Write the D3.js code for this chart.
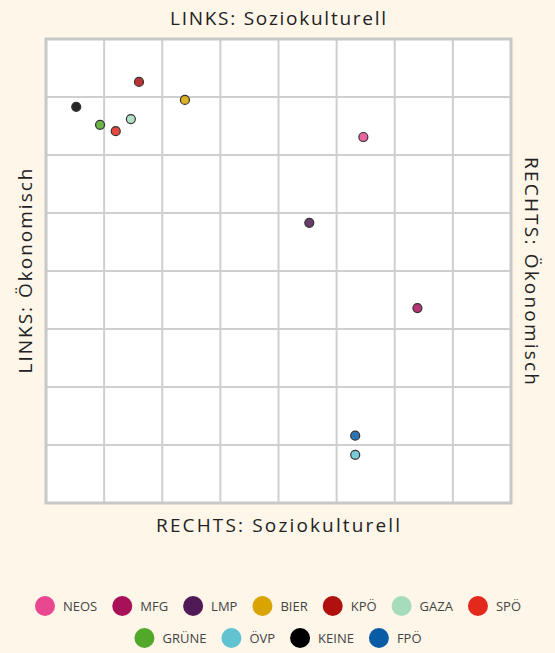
<!DOCTYPE html>
<html><head><meta charset="utf-8">
<script src="https://cdn.jsdelivr.net/npm/d3@7"></script>
<style>body{margin:0;background:#fdf6e9;font-family:"Open Sans",Lato,sans-serif;}</style>
</head><body><svg id="c" width="555" height="653"></svg>
<script>
const parties = ["NEOS","MFG","LMP","BIER","KPÖ","GAZA","SPÖ","GRÜNE","ÖVP","KEINE","FPÖ"];
const colors = ["#e8488f","#a8105a","#4f1a55","#d9a300","#b0100e","#a6dcbb","#e2291b","#52a829","#62c3d0","#000000","#0a5ba5"];
const xVals = [5.46,6.39,4.53,2.39,1.60,1.46,1.20,0.93,5.32,0.52,5.32];
const yVals = [1.69,4.64,3.17,1.05,0.74,1.38,1.59,1.48,7.17,1.17,6.84];
const ticks = [0,1,2,3,4,5,6,7,8];

const svg = d3.select("#c");
const L=46,R=511,T=39,B=503;
const x = d3.scaleLinear().domain([0,8]).range([L,R]);
const y = d3.scaleLinear().domain([0,8]).range([T,B]);
svg.append("rect").attr("x",L).attr("y",T).attr("width",R-L).attr("height",B-T).attr("fill","#fff");
svg.append("g").selectAll("line").data(ticks).join("line")
  .attr("x1",d=>x(d)).attr("x2",d=>x(d)).attr("y1",T).attr("y2",B).attr("stroke","#cfcfcf").attr("stroke-width",2);
svg.append("g").selectAll("line").data(ticks).join("line")
  .attr("y1",d=>y(d)).attr("y2",d=>y(d)).attr("x1",L).attr("x2",R).attr("stroke","#cfcfcf").attr("stroke-width",2);
svg.append("rect").attr("x",L).attr("y",T).attr("width",R-L).attr("height",B-T).attr("fill","none").attr("stroke","#c8c8c8").attr("stroke-width",3);
svg.append("g").selectAll("circle").data(parties).join("circle")
  .attr("cx",(d,i)=>x(xVals[i])).attr("cy",(d,i)=>y(yVals[i])).attr("r",4.5)
  .attr("fill",(d,i)=>colors[i]).attr("fill-opacity",0.85).attr("stroke","#333").attr("stroke-width",1.2);
const t=svg.append("g").attr("fill","#222").attr("font-size",19);
t.append("text").attr("x",278).attr("y",25).attr("text-anchor","middle").attr("textLength",216).text("LINKS: Soziokulturell");
t.append("text").attr("x",278).attr("y",532).attr("text-anchor","middle").attr("textLength",244).text("RECHTS: Soziokulturell");
t.append("text").attr("transform","translate(32,271) rotate(-90)").attr("text-anchor","middle").attr("textLength",205).text("LINKS: Ökonomisch");
t.append("text").attr("transform","translate(525,271) rotate(90)").attr("text-anchor","middle").attr("textLength",228).text("RECHTS: Ökonomisch");
// legend
const rows=[parties.slice(0,7),parties.slice(7)];
const lg=svg.append("g").attr("font-size",13).attr("fill","#444");
rows.forEach((row,ri)=>{
  const items=row.map(p=>{
    const i=parties.indexOf(p);
    const g=lg.append("g");
    g.append("circle").attr("cx",10).attr("cy",606+ri*32).attr("r",10).attr("fill",colors[i]);
    const tx=g.append("text").attr("x",28).attr("y",611+ri*32).text(p);
    return {g,w:28+tx.node().getComputedTextLength()};
  });
  const gap=15;
  const tot=d3.sum(items,d=>d.w)+gap*(items.length-1); let cx=278-tot/2;
  items.forEach(it=>{it.g.attr("transform",`translate(${cx},0)`);cx+=it.w+gap;});
});
</script></body></html>
